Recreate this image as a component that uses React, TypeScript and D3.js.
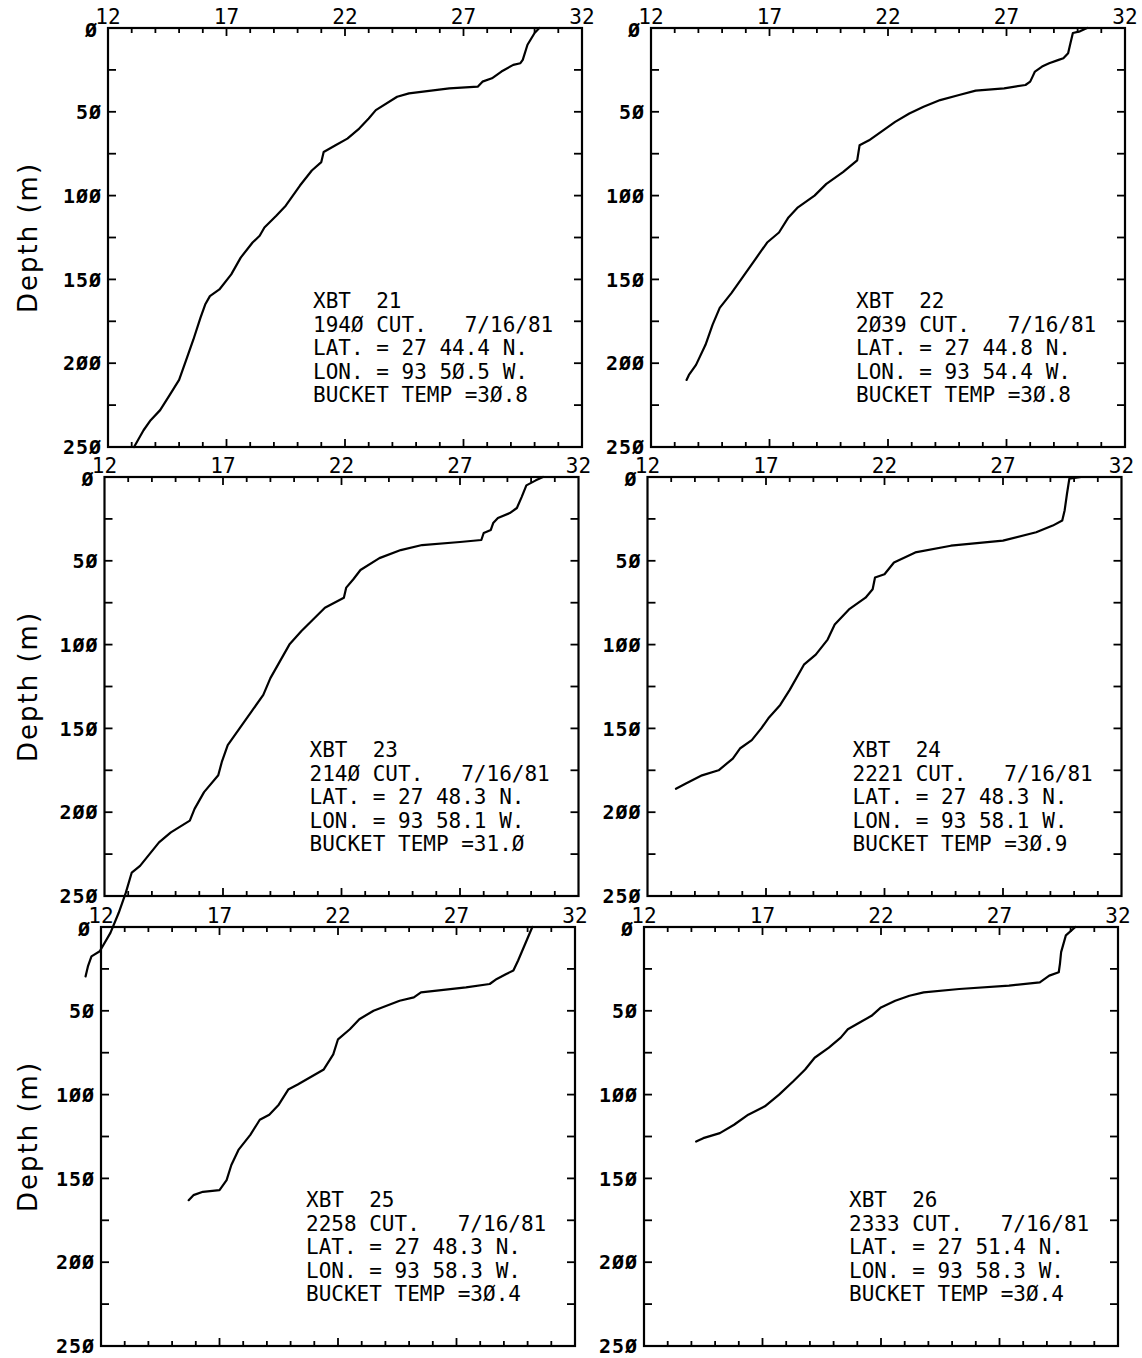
import React from 'react';
import * as d3 from 'd3';

// ---------- axis values ----------
const tempDomain = [12, 32];
const depthDomain = [0, 250];
const tempLabelTicks = [12, 17, 22, 27, 32];
const depthLabelTicks = [0, 50, 100, 150, 200, 250];
const depthLabelText = ['Ø', '5Ø', '1ØØ', '15Ø', '2ØØ', '25Ø'];
const yAxisTitle = 'Depth (m)';

// ---------- XBT 21 ----------
const xbt21Depth = [0, 3, 10, 19, 21, 22, 26, 30, 32, 35, 36, 39, 41, 49, 54, 60, 66, 70, 74, 80, 85, 94, 100, 106, 112, 119, 124, 128, 137, 147, 156, 160, 165, 173, 186, 198, 210, 219, 228, 234, 240, 250];
const xbt21Temp = [30.2, 30.0, 29.7, 29.5, 29.4, 29.1, 28.6, 28.2, 27.8, 27.6, 26.4, 24.7, 24.2, 23.3, 23.0, 22.6, 22.1, 21.6, 21.1, 21.0, 20.6, 20.1, 19.8, 19.5, 19.1, 18.6, 18.4, 18.1, 17.6, 17.2, 16.7, 16.3, 16.1, 15.9, 15.6, 15.3, 15.0, 14.6, 14.2, 13.8, 13.5, 13.1];
const xbt21Info = ['XBT  21', '194Ø CUT.   7/16/81', 'LAT. = 27 44.4 N.', 'LON. = 93 5Ø.5 W.', 'BUCKET TEMP =3Ø.8'];

// ---------- XBT 22 ----------
const xbt22Depth = [0, 2, 3, 9, 15, 18, 19, 21, 23, 26, 29, 32, 34, 36, 37.4, 40, 43, 47, 51, 56, 60, 67, 70, 79, 86, 93, 100, 107, 113, 122, 128, 138, 148, 158, 167, 177, 189, 201, 207, 210];
const xbt22Temp = [30.4, 30.1, 29.8, 29.7, 29.6, 29.4, 29.2, 28.8, 28.5, 28.2, 28.1, 28.0, 27.8, 26.9, 25.7, 25.0, 24.2, 23.5, 22.9, 22.3, 21.9, 21.2, 20.8, 20.7, 20.1, 19.4, 18.9, 18.2, 17.8, 17.4, 16.9, 16.4, 15.9, 15.4, 14.9, 14.6, 14.3, 13.9, 13.6, 13.5];
const xbt22Info = ['XBT  22', '2Ø39 CUT.   7/16/81', 'LAT. = 27 44.8 N.', 'LON. = 93 54.4 W.', 'BUCKET TEMP =3Ø.8'];

// ---------- XBT 23 ----------
const xbt23Depth = [0, 2, 5, 12, 18.5, 21.5, 24.5, 27.5, 31.6, 33.4, 37.6, 38.8, 40.6, 43.6, 48.4, 55.5, 61, 66, 72, 78, 85, 92, 100, 110, 120, 130, 140, 150, 160, 170, 178, 188, 198, 205, 212, 218, 225, 232, 236, 248, 260, 272, 283, 286, 292, 298];
const xbt23Temp = [30.5, 30.2, 29.8, 29.6, 29.4, 29.1, 28.6, 28.4, 28.3, 28.0, 27.9, 27.0, 25.4, 24.5, 23.6, 22.8, 22.5, 22.2, 22.1, 21.3, 20.8, 20.3, 19.8, 19.4, 19.0, 18.7, 18.2, 17.7, 17.2, 16.95, 16.8, 16.2, 15.8, 15.6, 14.8, 14.3, 13.9, 13.5, 13.15, 12.9, 12.6, 12.25, 11.8, 11.45, 11.3, 11.2];
const xbt23Info = ['XBT  23', '214Ø CUT.   7/16/81', 'LAT. = 27 48.3 N.', 'LON. = 93 58.1 W.', 'BUCKET TEMP =31.Ø'];

// ---------- XBT 24 ----------
const xbt24Depth = [0, 1, 10, 20, 26, 29, 33, 38, 41, 45, 51, 58, 60, 67, 72, 79, 88, 97, 106, 112, 127, 136, 144, 150, 157, 162, 168, 175, 178, 183, 186];
const xbt24Temp = [30.3, 29.8, 29.7, 29.6, 29.5, 29.1, 28.4, 27.0, 24.8, 23.3, 22.4, 22.0, 21.6, 21.5, 21.2, 20.5, 19.9, 19.6, 19.1, 18.6, 18.0, 17.6, 17.1, 16.8, 16.4, 15.9, 15.6, 15.0, 14.3, 13.6, 13.2];
const xbt24Info = ['XBT  24', '2221 CUT.   7/16/81', 'LAT. = 27 48.3 N.', 'LON. = 93 58.1 W.', 'BUCKET TEMP =3Ø.9'];

// ---------- XBT 25 ----------
const xbt25Depth = [0, 10, 20, 26, 28, 31, 34, 36, 39, 42, 44, 50, 55, 61, 67, 76, 85, 94, 97, 106, 112, 115, 124, 133, 142, 151, 157, 158, 160, 163];
const xbt25Temp = [30.2, 29.9, 29.6, 29.4, 29.1, 28.7, 28.4, 27.4, 25.5, 25.2, 24.6, 23.5, 22.9, 22.5, 22.0, 21.8, 21.4, 20.3, 19.9, 19.5, 19.1, 18.7, 18.3, 17.8, 17.5, 17.3, 17.0, 16.3, 15.9, 15.7];
const xbt25Info = ['XBT  25', '2258 CUT.   7/16/81', 'LAT. = 27 48.3 N.', 'LON. = 93 58.3 W.', 'BUCKET TEMP =3Ø.4'];

// ---------- XBT 26 ----------
const xbt26Depth = [0, 5, 15, 22, 27, 29, 33, 35, 37, 39, 41, 44, 48, 53, 57, 61, 66, 72, 78, 85, 92, 100, 107, 112, 118, 123, 126, 128];
const xbt26Temp = [30.2, 29.8, 29.6, 29.55, 29.5, 29.1, 28.7, 27.4, 25.3, 23.8, 23.2, 22.6, 22.0, 21.6, 21.1, 20.6, 20.3, 19.8, 19.2, 18.8, 18.3, 17.7, 17.1, 16.4, 15.8, 15.2, 14.5, 14.2];
const xbt26Info = ['XBT  26', '2333 CUT.   7/16/81', 'LAT. = 27 51.4 N.', 'LON. = 93 58.3 W.', 'BUCKET TEMP =3Ø.4'];

const profiles = [
  { depth: xbt21Depth, temp: xbt21Temp, info: xbt21Info },
  { depth: xbt22Depth, temp: xbt22Temp, info: xbt22Info },
  { depth: xbt23Depth, temp: xbt23Temp, info: xbt23Info },
  { depth: xbt24Depth, temp: xbt24Temp, info: xbt24Info },
  { depth: xbt25Depth, temp: xbt25Temp, info: xbt25Info },
  { depth: xbt26Depth, temp: xbt26Temp, info: xbt26Info },
];

const W = 1142;
const H = 1358;
const rowTops = [28, 477, 927];
const panelH = 419;
const colBase = [104.5, 647.5];
const panelW = 474;
const skew = 3.5;
const mono = '"DejaVu Sans Mono", "Liberation Mono", monospace';

function Panel({ idx }: { idx: number }) {
  const row = Math.floor(idx / 2);
  const col = idx % 2;
  const x0 = colBase[col] - skew * (row - 1);
  const y0 = rowTops[row];
  const x = d3.scaleLinear().domain(tempDomain).range([x0, x0 + panelW]);
  const y = d3.scaleLinear().domain(depthDomain).range([y0, y0 + panelH]);
  const p = profiles[idx];
  const pts: [number, number][] = p.depth.map((d, i) => [p.temp[i], d]);
  const line = d3
    .line<[number, number]>()
    .x((d) => x(d[0]))
    .y((d) => y(d[1]));
  const xMinor = d3.range(tempDomain[0] + 1, tempDomain[1], 1);
  const yMinor = d3.range(25, 250, 25);
  const [yTop, yBot] = y.range();
  const [xL, xR] = x.range();
  return (
    <g>
      <rect x={xL} y={yTop} width={xR - xL} height={yBot - yTop} fill="none" stroke="#000" strokeWidth={2.2} />
      {xMinor.map((t) => {
        const major = t % 5 === 2;
        const len = major ? 8 : 5;
        return (
          <g key={'xt' + t}>
            <line x1={x(t)} x2={x(t)} y1={yTop} y2={yTop + len} stroke="#000" strokeWidth={1.8} />
            <line x1={x(t)} x2={x(t)} y1={yBot} y2={yBot - len} stroke="#000" strokeWidth={1.8} />
          </g>
        );
      })}
      {yMinor.map((d) => (
        <g key={'yt' + d}>
          <line x1={xL} x2={xL + 8} y1={y(d)} y2={y(d)} stroke="#000" strokeWidth={1.8} />
          <line x1={xR} x2={xR - 8} y1={y(d)} y2={y(d)} stroke="#000" strokeWidth={1.8} />
        </g>
      ))}
      {tempLabelTicks.map((t) => (
        <text key={'xl' + t} x={x(t)} y={yTop - 4} textAnchor="middle" fontFamily={mono} fontSize={21} fill="#000">
          {String(t)}
        </text>
      ))}
      {depthLabelTicks.map((d, i) => (
        <text
          key={'yl' + d}
          x={d === 0 ? xL - 10 : xL - 6}
          y={y(d) + (d === 0 ? 2 : 0)}
          dy="0.36em"
          textAnchor="end"
          fontFamily={mono}
          fontWeight="bold"
          fontSize={20}
          letterSpacing={1}
          fill="#000"
        >
          {depthLabelText[i]}
        </text>
      ))}
      <path d={line(pts) || ''} fill="none" stroke="#000" strokeWidth={2.2} strokeLinejoin="round" strokeLinecap="round" />
      {p.info.map((s, i) => (
        <text
          key={'info' + i}
          x={xL + 205}
          y={yTop + 280 + i * 23.5}
          fontFamily={mono}
          fontSize={21}
          fill="#000"
          style={{ whiteSpace: 'pre' }}
        >
          {s}
        </text>
      ))}
      {col === 0 && (
        <text
          transform={`translate(37, ${(yTop + yBot) / 2}) rotate(-90)`}
          textAnchor="middle"
          fontFamily='"DejaVu Sans", sans-serif'
          fontSize={26}
          letterSpacing={2}
          fill="#000"
        >
          {yAxisTitle}
        </text>
      )}
    </g>
  );
}

export default function App() {
  return (
    <svg
      width={W}
      height={H}
      viewBox={`0 0 ${W} ${H}`}
      style={{ position: 'absolute', left: 0, top: 0, background: '#fff' }}
      xmlSpace="preserve"
    >
      <rect x={0} y={0} width={W} height={H} fill="#fff" />
      {profiles.map((_, i) => (
        <Panel key={i} idx={i} />
      ))}
    </svg>
  );
}
